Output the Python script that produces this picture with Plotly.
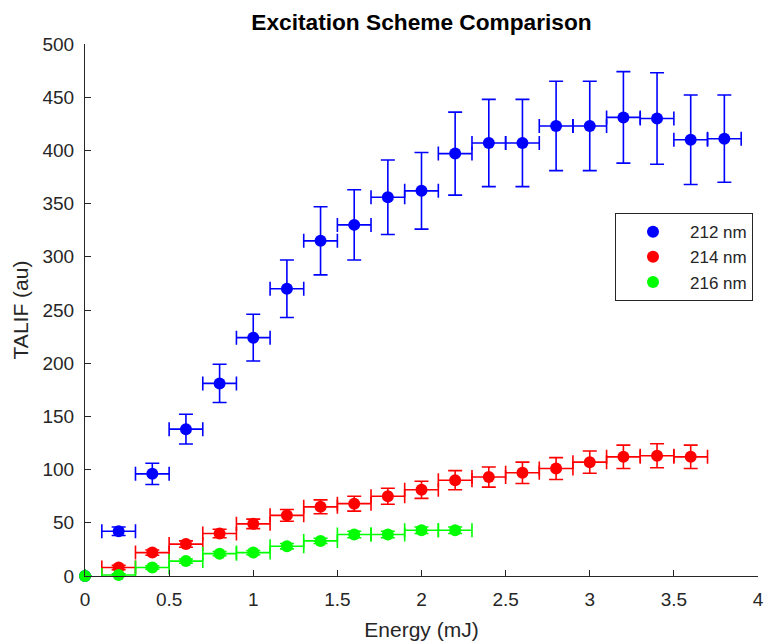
import plotly.graph_objects as go

# Laser pulse energy (mJ) for each scheme
energy_212 = [0.0, 0.2, 0.4, 0.6, 0.8, 1.0, 1.2, 1.4, 1.6, 1.8, 2.0, 2.2, 2.4, 2.6, 2.8, 3.0, 3.2, 3.4, 3.6, 3.8]
energy_214 = [0.2, 0.4, 0.6, 0.8, 1.0, 1.2, 1.4, 1.6, 1.8, 2.0, 2.2, 2.4, 2.6, 2.8, 3.0, 3.2, 3.4, 3.6]
energy_216 = [0.0, 0.2, 0.4, 0.6, 0.8, 1.0, 1.2, 1.4, 1.6, 1.8, 2.0, 2.2]

# TALIF signal (au) and its uncertainty
talif_212 = [0, 42, 96, 138, 181, 224, 270, 315, 330, 356, 362, 397, 407, 407, 423, 423, 431, 430, 410, 411]
err_212 = [0, 4, 10, 14, 18, 22, 27, 32, 33, 35, 36, 39, 41, 41, 42, 42, 43, 43, 42, 41]
talif_214 = [8, 22, 30, 40, 49, 57, 65, 68, 75, 81, 90, 93, 97, 101, 107, 112, 113, 112]
err_214 = [2, 2.5, 3, 4, 4.5, 5.5, 6.5, 7, 7.5, 8, 9, 9.5, 10, 10.3, 10.5, 11, 11.3, 11]
talif_216 = [0, 1, 8, 14, 21, 22, 28, 33, 39, 39, 43, 43]
err_216 = [0, 1, 1.5, 2, 2, 2, 2.5, 2.5, 3, 3, 3, 3]

# Horizontal energy uncertainty (mJ)
energy_err_212 = [0] + [0.1] * (len(energy_212) - 1)
energy_err_214 = [0.1] * len(energy_214)
energy_err_216 = [0] + [0.1] * (len(energy_216) - 1)

series = [
    ("212 nm", energy_212, talif_212, err_212, energy_err_212, "#0000FF"),
    ("214 nm", energy_214, talif_214, err_214, energy_err_214, "#FF0000"),
    ("216 nm", energy_216, talif_216, err_216, energy_err_216, "#00FF00"),
]

fig = go.Figure()
for name, x, y, ey, ex, color in series:
    fig.add_trace(go.Scatter(
        x=x, y=y, name=name, mode="markers",
        marker=dict(color=color, size=12, symbol="circle"),
        error_y=dict(type="data", array=ey, visible=True, color=color, thickness=1.6, width=7),
        error_x=dict(type="data", array=ex, visible=True, color=color, thickness=1.6, width=7),
        cliponaxis=False,
    ))

axis_color = "#262626"
fig.update_layout(
    width=767, height=643,
    margin=dict(l=85, r=9, t=44, b=67),
    paper_bgcolor="white", plot_bgcolor="white",
    font=dict(family="Liberation Sans, Arial, sans-serif", color=axis_color, size=18),
    title=dict(
        text="<b>Excitation Scheme Comparison</b>",
        x=0.5, xref="paper", xanchor="center",
        y=1 - 22 / 643, yref="container", yanchor="middle",
        font=dict(size=22.7, color="black"),
    ),
    showlegend=True,
    legend=dict(
        x=0.7875, y=0.682, xanchor="left", yanchor="top",
        bgcolor="white", bordercolor=axis_color, borderwidth=1,
        font=dict(size=17, color=axis_color),
        itemwidth=64, tracegroupgap=0,
    ),
)
fig.update_xaxes(
    range=[0, 4], tickvals=[0, 0.5, 1, 1.5, 2, 2.5, 3, 3.5, 4],
    ticktext=["0", "0.5", "1", "1.5", "2", "2.5", "3", "3.5", "4"],
    showgrid=False, zeroline=False, showline=True, linecolor=axis_color, linewidth=1,
    ticks="inside", ticklen=6, tickcolor=axis_color, automargin=False,
    tickfont=dict(size=19, color=axis_color), ticklabelstandoff=6,
    title=dict(text="Energy (mJ)", font=dict(size=21, color=axis_color), standoff=13),
)
fig.update_yaxes(
    range=[0, 500], tickvals=list(range(0, 501, 50)),
    showgrid=False, zeroline=False, showline=True, linecolor=axis_color, linewidth=1,
    ticks="inside", ticklen=6, tickcolor=axis_color, automargin=False,
    tickfont=dict(size=19, color=axis_color), ticklabelstandoff=6,
    title=dict(text="TALIF (au)", font=dict(size=21, color=axis_color), standoff=8),
)

fig.write_html("out.html")
